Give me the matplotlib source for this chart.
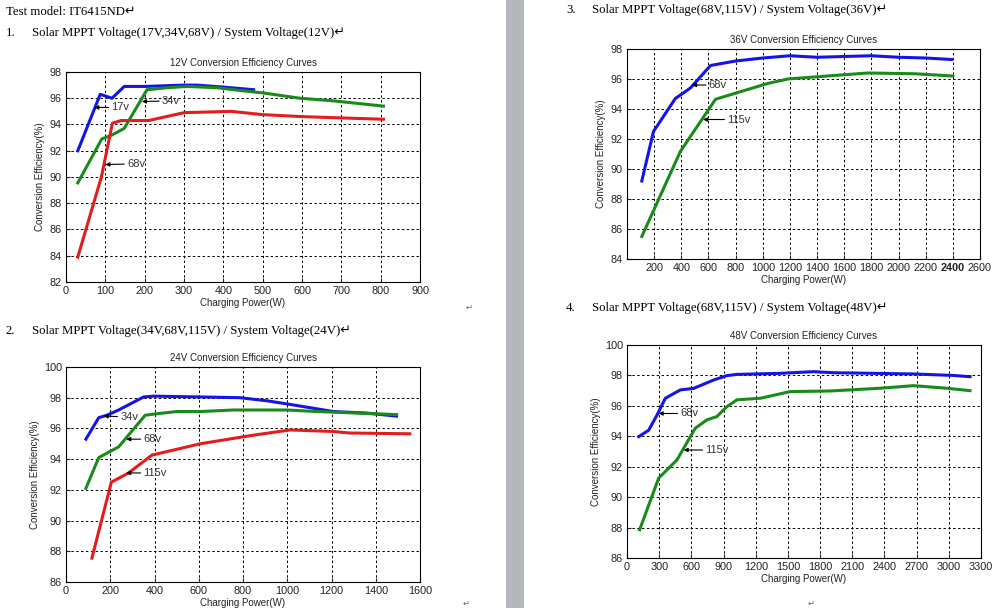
import matplotlib
matplotlib.use('Agg')
import matplotlib.pyplot as plt
from matplotlib.patches import Rectangle

# ---- data ----
# 12V system
p12_17v = [30, 87, 117, 148, 200, 300, 333, 400, 477]
e12_17v = [92.0, 96.3, 96.0, 96.9, 96.9, 97.0, 97.0, 96.85, 96.65]
p12_34v = [30, 91, 117, 148, 206, 257, 307, 384, 426, 502, 595, 680, 807]
e12_34v = [89.55, 92.9, 93.2, 93.7, 96.65, 96.8, 96.9, 96.8, 96.65, 96.4, 96.0, 95.8, 95.4]
p12_68v = [30, 90, 118, 140, 210, 300, 420, 500, 600, 700, 807]
e12_68v = [83.9, 90.0, 94.1, 94.3, 94.3, 94.9, 95.0, 94.75, 94.6, 94.5, 94.4]

# 24V system
p24_34v = [90, 148, 185, 238, 351, 396, 607, 787, 907, 997, 1208, 1358, 1494]
e24_34v = [95.3, 96.7, 96.86, 97.2, 98.05, 98.1, 98.05, 98.0, 97.8, 97.6, 97.1, 97.0, 96.8]
p24_68v = [90, 148, 238, 358, 396, 500, 607, 757, 998, 1133, 1494]
e24_68v = [92.1, 94.1, 94.8, 96.86, 96.93, 97.1, 97.1, 97.2, 97.2, 97.1, 96.9]
p24_115v = [117, 205, 283, 388, 607, 847, 1013, 1208, 1283, 1554]
e24_115v = [87.55, 92.5, 93.1, 94.26, 95.0, 95.56, 95.9, 95.8, 95.7, 95.65]

# 36V system
p36_68v = [109, 195, 356, 467, 615, 800, 1000, 1200, 1400, 1800, 2000, 2200, 2390]
e36_68v = [89.2, 92.5, 94.7, 95.4, 96.9, 97.2, 97.4, 97.55, 97.45, 97.55, 97.45, 97.4, 97.3]
p36_115v = [109, 393, 652, 1035, 1183, 1578, 1775, 2121, 2400]
e36_115v = [85.5, 91.17, 94.65, 95.7, 96.0, 96.27, 96.4, 96.35, 96.2]

# 48V system
p48_68v = [109, 202, 280, 357, 497, 621, 807, 932, 1025, 1428, 1739, 1925, 2667, 3042, 3198]
e48_68v = [93.98, 94.4, 95.4, 96.5, 97.05, 97.15, 97.7, 97.99, 98.07, 98.14, 98.25, 98.18, 98.1, 98.0, 97.92]
p48_115v = [118, 295, 466, 636, 745, 838, 931, 1025, 1242, 1521, 1894, 2360, 2670, 2981, 3198]
e48_115v = [87.86, 91.25, 92.45, 94.53, 95.08, 95.3, 95.95, 96.4, 96.5, 96.94, 96.98, 97.16, 97.33, 97.16, 97.0]

BLUE = '#1414e8'
GREEN = '#1a8a1a'
RED = '#e41c1c'

sans = ['Liberation Sans', 'DejaVu Sans']
serif = ['Liberation Serif', 'DejaVu Sans']

fig = plt.figure(figsize=(10, 6.08), dpi=100)

# gray page gap in the middle of the scan
fig.patches.append(Rectangle((0.506, 0), 0.018, 1, transform=fig.transFigure,
                             facecolor='#b4b7bc', edgecolor='none', zorder=0))


def make_chart(pos, title, xlim, xticks, ylim, yticks, series, notes):
    ax = fig.add_axes(pos)
    for x, y, c in series:
        ax.plot(x, y, color=c, lw=2.2, solid_joinstyle='round')
    for txt, tip, loc in notes:
        ax.annotate(txt, xy=tip, xytext=loc, fontsize=8, family=sans,
                    color='#333333', va='center', ha='left',
                    arrowprops=dict(arrowstyle='-|>', color='black', lw=0.8,
                                    mutation_scale=6, shrinkA=0, shrinkB=0))
    ax.set_xlim(xlim)
    ax.set_ylim(ylim)
    ax.set_xticks(xticks)
    ax.set_yticks(yticks)
    ax.grid(True, color='black', ls=(0, (2.5, 2.5)), lw=0.7)
    ax.tick_params(direction='in', length=3, labelsize=7.8, colors='#222222', pad=3)
    for lab in ax.get_xticklabels() + ax.get_yticklabels():
        lab.set_family(sans)
    for s in ax.spines.values():
        s.set_linewidth(0.8)
    ax.set_title(title, fontsize=7, family=sans, pad=4, color='#222222')
    ax.set_xlabel('Charging Power(W)', fontsize=7, family=sans, labelpad=1, color='#222222')
    ax.set_ylabel('Conversion Efficiency(%)', fontsize=7, family=sans, labelpad=3, color='#222222')
    return ax


make_chart([0.066, 0.5362, 0.354, 0.3454], '12V Conversion Efficiency Curves',
           (0, 900), range(0, 901, 100), (82, 98), range(82, 99, 2),
           [(p12_17v, e12_17v, BLUE), (p12_34v, e12_34v, GREEN), (p12_68v, e12_68v, RED)],
           [('17v', (72, 95.3), (115, 95.3)),
            ('34v', (193, 95.75), (244, 95.8)),
            ('68v', (100, 90.95), (155, 91.0))])

make_chart([0.066, 0.0428, 0.354, 0.3536], '24V Conversion Efficiency Curves',
           (0, 1600), range(0, 1601, 200), (86, 100), range(86, 101, 2),
           [(p24_34v, e24_34v, BLUE), (p24_68v, e24_68v, GREEN), (p24_115v, e24_115v, RED)],
           [('34v', (170, 96.8), (245, 96.75)),
            ('68v', (272, 95.3), (350, 95.3)),
            ('115v', (272, 93.1), (350, 93.1))])

ax3 = make_chart([0.627, 0.574, 0.353, 0.3454], '36V Conversion Efficiency Curves',
                 (0, 2600), range(200, 2601, 200), (84, 98), range(84, 99, 2),
                 [(p36_68v, e36_68v, BLUE), (p36_115v, e36_115v, GREEN)],
                 [('68v', (479, 95.6), (602, 95.6)),
                  ('115v', (560, 93.3), (738, 93.3))])
# the scan shows the 2400 label heavier than the rest
ax3.get_xticklabels()[11].set_fontweight('bold')

make_chart([0.627, 0.0822, 0.354, 0.3503], '48V Conversion Efficiency Curves',
           (0, 3300), range(0, 3301, 300), (86, 100), range(86, 101, 2),
           [(p48_68v, e48_68v, BLUE), (p48_115v, e48_115v, GREEN)],
           [('68v', (295, 95.5), (497, 95.5)),
            ('115v', (528, 93.1), (730, 93.1))])

# document text around the charts
def px(x, y):
    return x / 1000, 1 - y / 608

hs = 9.2
fig.text(*px(6, 12), 'Test model: IT6415ND\u21b5', family=serif, fontsize=hs, va='center')
fig.text(*px(6, 33), '1.', family=serif, fontsize=hs, va='center')
fig.text(*px(32, 33), 'Solar MPPT Voltage(17V,34V,68V) / System Voltage(12V)\u21b5',
         family=serif, fontsize=hs, va='center')
fig.text(*px(6, 331), '2.', family=serif, fontsize=hs, va='center')
fig.text(*px(32, 331), 'Solar MPPT Voltage(34V,68V,115V) / System Voltage(24V)\u21b5',
         family=serif, fontsize=hs, va='center')
fig.text(*px(566, 10), '3.', family=serif, fontsize=hs, va='center')
fig.text(*px(592, 10), 'Solar MPPT Voltage(68V,115V) / System Voltage(36V)\u21b5',
         family=serif, fontsize=hs, va='center')
fig.text(*px(566, 308), '4.', family=serif, fontsize=hs, va='center')
fig.text(*px(592, 308), 'Solar MPPT Voltage(68V,115V) / System Voltage(48V)\u21b5',
         family=serif, fontsize=hs, va='center')
for x, y in [(466, 308), (463, 604), (808, 604)]:
    fig.text(*px(x, y), '\u21b5', family=sans, fontsize=6, color='#666666', va='center')

plt.savefig('out.png', dpi=100)
plt.close('all')
